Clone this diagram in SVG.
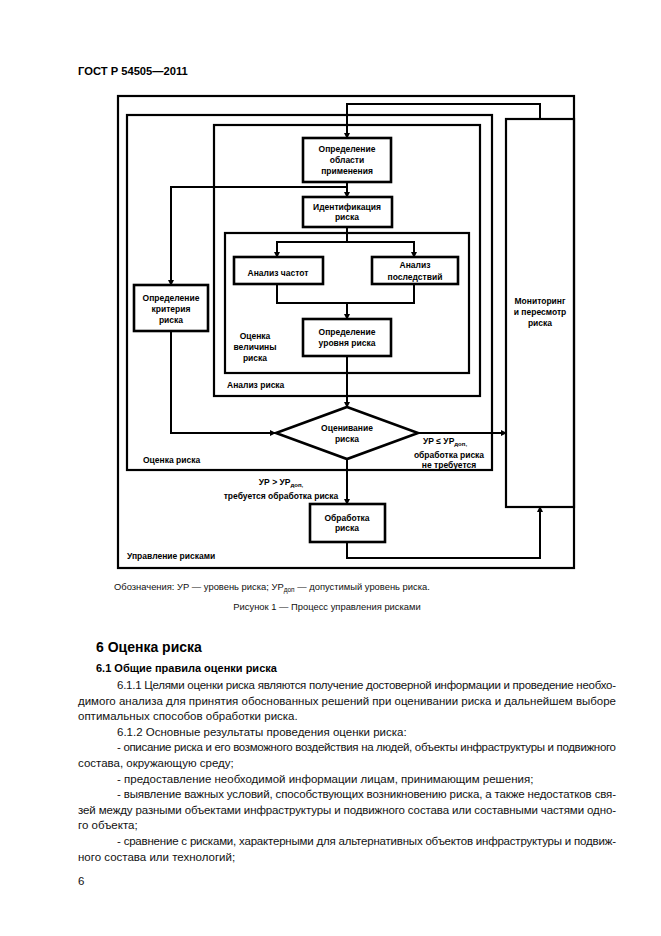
<svg xmlns="http://www.w3.org/2000/svg" width="661" height="936" viewBox="0 0 661 936">
<style>
.bg{fill:#fff}
.frame{fill:none;stroke:#000;stroke-width:2.2}
.node{fill:#fff;stroke:#000;stroke-width:2.6}
.c{fill:none;stroke:#000;stroke-width:2}
.t{font-family:"Liberation Sans",Arial,sans-serif;font-weight:bold;font-size:8.5px;fill:#000;text-anchor:middle}
.l{font-family:"Liberation Sans",Arial,sans-serif;font-weight:bold;font-size:8.5px;fill:#000}
.sub{font-size:6px}
.body{font-family:"Liberation Sans",Arial,sans-serif;font-size:11.5px;fill:#111}
.cap{font-family:"Liberation Sans",Arial,sans-serif;font-size:9.4px;fill:#111}
.h{font-family:"Liberation Sans",Arial,sans-serif;font-weight:bold;fill:#000}
</style>
<defs>
<marker id="a" markerUnits="userSpaceOnUse" markerWidth="6" markerHeight="6" refX="5" refY="3" orient="auto">
<path d="M0,0 L6,3 L0,6 z" fill="#000"/>
</marker>
</defs>
<rect class="bg" x="0" y="0" width="661" height="936"/>
<text class="h" x="78" y="75" font-size="11.2">ГОСТ Р 54505—2011</text>

<g id="frames">
<rect id="upravlenie" class="frame" x="118" y="96" width="456" height="472"/>
<rect id="ocenka-riska" class="frame" x="127" y="115" width="365" height="355"/>
<rect id="analiz-riska" class="frame" x="214" y="125" width="266" height="271"/>
<rect id="ocenka-velichiny" class="frame" x="225" y="233" width="244" height="140"/>
</g>

<g id="connectors">
<path class="c" d="M540,119 V104 H347 V138" marker-end="url(#a)"/>
<path class="c" d="M347,182 V197" marker-end="url(#a)"/>
<path class="c" d="M347,187 H171 V285" marker-end="url(#a)"/>
<path class="c" d="M347,227 V242 H277 V257" marker-end="url(#a)"/>
<path class="c" d="M347,242 H414 V257" marker-end="url(#a)"/>
<path class="c" d="M277,284 V303 H414 V284"/>
<path class="c" d="M347,303 V319" marker-end="url(#a)"/>
<path class="c" d="M347,356 V407" marker-end="url(#a)"/>
<path class="c" d="M171,331 V433 H275" marker-end="url(#a)"/>
<path class="c" d="M418,433 H506" marker-end="url(#a)"/>
<path class="c" d="M347,459 V504" marker-end="url(#a)"/>
<path class="c" d="M347,542 V558 H540 V507" marker-end="url(#a)"/>
</g>

<g id="monitoring">
<rect class="frame" x="506" y="119" width="68" height="388"/>
<text class="t" x="540" y="304">Мониторинг</text>
<text class="t" x="540" y="315">и пересмотр</text>
<text class="t" x="540" y="326">риска</text>
</g>

<g id="opredelenie-oblasti">
<rect class="node" x="303" y="138" width="88" height="44"/>
<text class="t" x="347" y="152">Определение</text>
<text class="t" x="347" y="163">области</text>
<text class="t" x="347" y="174">применения</text>
</g>

<g id="identifikaciya">
<rect class="node" x="303" y="197" width="89" height="30"/>
<text class="t" x="347" y="210">Идентификация</text>
<text class="t" x="347" y="220">риска</text>
</g>

<g id="analiz-chastot">
<rect class="node" x="234" y="257" width="89" height="27"/>
<text class="t" x="278" y="276">Анализ частот</text>
</g>

<g id="analiz-posledstviy">
<rect class="node" x="372" y="257" width="86" height="27"/>
<text class="t" x="415" y="268">Анализ</text>
<text class="t" x="415" y="280">последствий</text>
</g>

<g id="opredelenie-urovnya">
<rect class="node" x="303" y="319" width="88" height="37"/>
<text class="t" x="347" y="335">Определение</text>
<text class="t" x="347" y="346">уровня риска</text>
</g>

<g id="opredelenie-kriteriya">
<rect class="node" x="134" y="285" width="74" height="46"/>
<text class="t" x="171" y="301">Определение</text>
<text class="t" x="171" y="312">критерия</text>
<text class="t" x="171" y="323">риска</text>
</g>

<g id="ocenivanie">
<polygon class="node" points="347,407 418,433 347,459 276,433"/>
<text class="t" x="347" y="431">Оценивание</text>
<text class="t" x="347" y="442">риска</text>
</g>

<g id="obrabotka">
<rect class="node" x="310" y="504" width="75" height="38"/>
<text class="t" x="347" y="521">Обработка</text>
<text class="t" x="347" y="531">риска</text>
</g>

<g id="labels">
<text class="t" x="255" y="339">Оценка</text>
<text class="t" x="255" y="350">величины</text>
<text class="t" x="255" y="361">риска</text>
<text class="l" x="227" y="388">Анализ риска</text>
<text class="l" x="143" y="463">Оценка риска</text>
<text class="l" x="127" y="559">Управление рисками</text>
<text class="l" x="423" y="444">УР ≤ УР<tspan class="sub" dy="2">доп,</tspan></text>
<text class="t" x="449" y="458">обработка риска</text>
<text class="t" x="449" y="468">не требуется</text>
<text class="t" x="281" y="485">УР &gt; УР<tspan class="sub" dy="2">доп,</tspan></text>
<text class="t" x="281" y="499">требуется обработка риска</text>
</g>

<text class="cap" x="114" y="590">Обозначения: УР — уровень риска; УР<tspan font-size="6.5" dy="2">доп</tspan><tspan dy="-2"> — допустимый уровень риска.</tspan></text>
<text class="cap" x="327" y="610" text-anchor="middle">Рисунок 1 — Процесс управления рисками</text>

<text class="h" x="96" y="652" font-size="14">6  Оценка риска</text>
<text class="h" x="96" y="672" font-size="11">6.1  Общие правила оценки риска</text>

<text class="body" x="117" y="689" textLength="499" lengthAdjust="spacing">6.1.1  Целями оценки риска являются получение достоверной информации и проведение необхо-</text>
<text class="body" x="78" y="704.6" textLength="538" lengthAdjust="spacing">димого анализа для принятия обоснованных решений при оценивании риска и дальнейшем выборе</text>
<text class="body" x="78" y="720.2">оптимальных способов обработки риска.</text>
<text class="body" x="117" y="735.8">6.1.2  Основные результаты проведения оценки риска:</text>
<text class="body" x="117" y="751.4" textLength="499" lengthAdjust="spacing">- описание риска и его возможного воздействия на людей, объекты инфраструктуры и подвижного</text>
<text class="body" x="78" y="767">состава, окружающую среду;</text>
<text class="body" x="117" y="782.6">- предоставление необходимой информации лицам, принимающим решения;</text>
<text class="body" x="117" y="798.2" textLength="499" lengthAdjust="spacing">- выявление важных условий, способствующих возникновению риска, а также недостатков свя-</text>
<text class="body" x="78" y="813.8" textLength="538" lengthAdjust="spacing">зей между разными объектами инфраструктуры и подвижного состава или составными частями одно-</text>
<text class="body" x="78" y="829.4">го объекта;</text>
<text class="body" x="117" y="845" textLength="499" lengthAdjust="spacing">- сравнение с рисками, характерными для альтернативных объектов инфраструктуры и подвиж-</text>
<text class="body" x="78" y="860.6">ного состава или технологий;</text>
<text class="body" x="78" y="885" font-size="10">6</text>
</svg>
